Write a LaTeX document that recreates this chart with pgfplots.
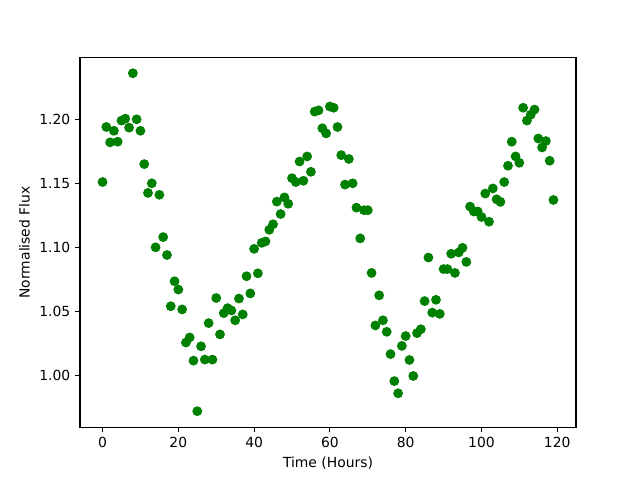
\documentclass[border=0pt]{standalone}
\usepackage{fontspec}
\setmainfont{DejaVu Sans}
\usepackage{pgfplots}
\pgfplotsset{compat=1.18}
\definecolor{mplgreen}{HTML}{008000}
\pgfplotstableread{
x y
0 1.151
1 1.194
2 1.182
3 1.191
4 1.1825
5 1.199
6 1.2005
7 1.1935
8 1.236
9 1.200
10 1.191
11 1.165
12 1.1425
13 1.150
14 1.100
15 1.141
16 1.108
17 1.094
18 1.054
19 1.0735
20 1.067
21 1.0515
22 1.0256
23 1.0296
24 1.0115
25 0.972
26 1.0227
27 1.0123
28 1.0408
29 1.0123
30 1.0604
31 1.032
32 1.0486
33 1.0525
34 1.0507
35 1.043
36 1.060
37 1.0476
38 1.0774
39 1.064
40 1.0988
41 1.0797
42 1.1035
43 1.1046
44 1.1137
45 1.118
46 1.1357
47 1.126
48 1.139
49 1.134
50 1.154
51 1.151
52 1.167
53 1.152
54 1.171
55 1.159
56 1.206
57 1.207
58 1.193
59 1.189
60 1.210
61 1.209
62 1.194
63 1.172
64 1.149
65 1.169
66 1.150
67 1.131
68 1.107
69 1.129
70 1.129
71 1.080
72 1.039
73 1.0625
74 1.043
75 1.034
76 1.0166
77 0.9955
78 0.986
79 1.023
80 1.0307
81 1.012
82 0.9995
83 1.033
84 1.036
85 1.058
86 1.092
87 1.049
88 1.059
89 1.048
90 1.083
91 1.083
92 1.095
93 1.080
94 1.096
95 1.0996
96 1.0886
97 1.1318
98 1.128
99 1.128
100 1.1237
101 1.142
102 1.120
103 1.146
104 1.1375
105 1.1355
106 1.151
107 1.1637
108 1.1825
109 1.171
110 1.166
111 1.209
112 1.199
113 1.2036
114 1.2076
115 1.185
116 1.178
117 1.183
118 1.1676
119 1.137
}\fluxdata
\begin{document}
\begin{tikzpicture}[x=1pt,y=1pt]
\path[use as bounding box] (0,0) rectangle (460.8,345.6);
\begin{axis}[
  at={(57.6pt,38.02pt)}, anchor=south west,
  scale only axis, width=357.12pt, height=266.11pt,
  xmin=-5.95, xmax=124.95, ymin=0.9595, ymax=1.2482,
  axis line style={line width=0.8pt},
  tick style={line width=0.8pt, black},
  tick align=outside, major tick length=3.5pt,
  xtick pos=bottom, ytick pos=left,
  xtick={0,20,40,60,80,100,120},
  ytick={1.00,1.05,1.10,1.15,1.20},
  font=\fontsize{10}{12}\selectfont,
  /pgf/number format/assume math mode=true,
  yticklabel style={/pgf/number format/.cd, fixed, fixed zerofill, precision=2},
  xlabel={Time (Hours)}, ylabel={Normalised Flux},
  clip=false,
]
\addplot[only marks, mark=*, mark size=3pt, color=mplgreen, mark options={draw=mplgreen, fill=mplgreen, line width=1pt}] table[x=x,y=y] {\fluxdata};
\end{axis}
\end{tikzpicture}
\end{document}
